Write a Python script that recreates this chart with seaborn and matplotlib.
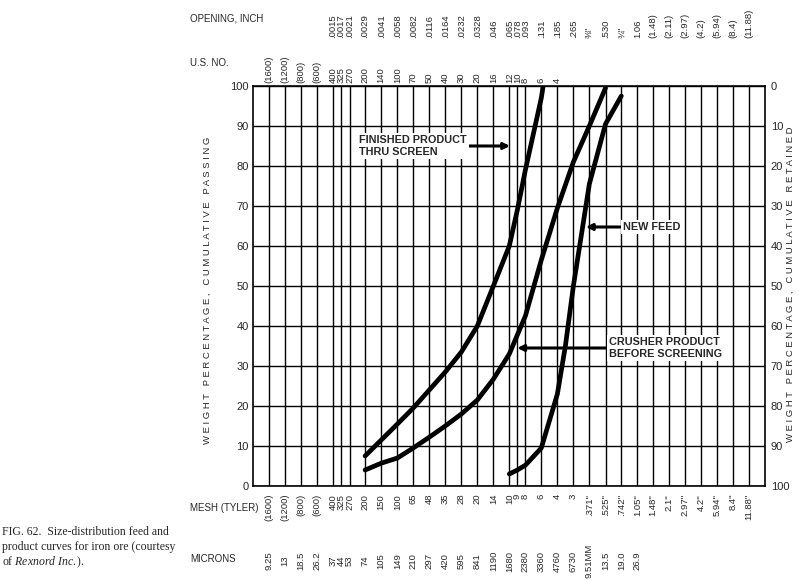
import pandas as pd
import numpy as np
import seaborn as sns
import matplotlib.pyplot as plt
from matplotlib.transforms import blended_transform_factory

# sieve sizes (microns) - one vertical grid line each
sizes = [9.25, 13, 18.5, 26.2, 37, 44, 53, 74, 105, 149, 210, 297, 420, 595, 841,
         1190, 1680, 2000, 2380, 3360, 4760, 6730, 9510, 13500, 19000, 26900,
         37600, 53300, 75400, 106700, 150900, 213400, 301800]

# label rows
opening_inch = [".0015", ".0017", ".0021", ".0029", ".0041", ".0058", ".0082", ".0116",
                ".0164", ".0232", ".0328", ".046", ".065", ".078", ".093", ".131", ".185",
                ".265", '⅜"', ".530", '¾"', "1.06", "(1.48)", "(2.11)", "(2.97)", "(4.2)",
                "(5.94)", "(8.4)", "(11.88)"]   # starts at 37 microns
us_no = ["(1600)", "(1200)", "(800)", "(600)", "400", "325", "270", "200", "140", "100",
         "70", "50", "40", "30", "20", "16", "12", "10", "8", "6", "4"]
mesh_tyler = ["(1600)", "(1200)", "(800)", "(600)", "400", "325", "270", "200", "150",
              "100", "65", "48", "35", "28", "20", "14", "10", "9", "8", "6", "4", "3",
              '.371"', '.525"', '.742"', '1.05"', '1.48"', '2.1"', '2.97"', '4.2"',
              '5.94"', '8.4"', '11.88"']
microns = ["9.25", "13", "18.5", "26.2", "37", "44", "53", "74", "105", "149", "210",
           "297", "420", "595", "841", "1190", "1680", "", "2380", "3360", "4760", "6730",
           "9.51MM", "13.5", "19.0", "26.9"]

# curves (size in microns, weight % cumulative passing)
finished_x = [74, 105, 149, 210, 297, 420, 595, 841, 1190, 1680, 2000, 2380, 3360, 3500]
finished_y = [7.5, 11.5, 15.5, 19.5, 24, 28.5, 33.5, 40, 50, 60, 69, 79, 97, 100]
crusher_x = [74, 105, 149, 210, 297, 420, 595, 841, 1190, 1680, 2380, 3360, 4760, 6730,
             9510, 13500]
crusher_y = [4, 5.7, 7, 9.5, 12.2, 15, 18, 21.5, 26.7, 33, 42.5, 56.5, 69.5, 81, 90, 99.5]
feed_x = [1680, 2000, 2380, 3360, 4760, 5660, 6730, 9510, 13500, 19000]
feed_y = [3, 4, 5.2, 9.5, 23, 35, 50, 75.5, 90.5, 97.5]

df = pd.concat([
    pd.DataFrame({"micron": finished_x, "passing": finished_y, "curve": "finished"}),
    pd.DataFrame({"micron": crusher_x, "passing": crusher_y, "curve": "crusher"}),
    pd.DataFrame({"micron": feed_x, "passing": feed_y, "curve": "feed"}),
], ignore_index=True)

sns.set_style("white")
plt.rcParams["font.family"] = ["Liberation Sans", "DejaVu Sans"]
plt.rcParams["mathtext.fontset"] = "custom"
plt.rcParams["mathtext.it"] = "Liberation Serif:italic"
plt.rcParams["mathtext.rm"] = "Liberation Serif"

fig = plt.figure(figsize=(8, 5.81), dpi=100)
ax = fig.add_axes([0.3163, 0.1635, 0.64, 0.6885])

ax.set_xscale("log")
sns.lineplot(data=df, x="micron", y="passing", hue="curve", palette=["black"] * 3,
             legend=False, estimator=None, sort=False, lw=3.4, ax=ax)
ax.set_xlim(sizes[0] / np.sqrt(2), sizes[-1] * np.sqrt(2))
ax.set_ylim(0, 100)
ax.set_xticks(sizes)
ax.xaxis.set_minor_locator(plt.NullLocator())
ax.set_xticklabels([])
ax.set_yticks(range(0, 101, 10))
ax.set_yticklabels([str(v) for v in range(0, 101, 10)], fontsize=8)
ax.tick_params(length=0, pad=3)
ax.grid(True, color="black", lw=1.0)
ax.set_xlabel("")
ax.set_ylabel("")
for s in ax.spines.values():
    s.set_color("black")
    s.set_linewidth(1.2)

ax2 = ax.twinx()
ax2.set_ylim(100, 0)
ax2.set_yticks(range(0, 101, 10))
ax2.set_yticklabels([str(v) for v in range(0, 101, 10)], fontsize=8)
ax2.tick_params(length=0, pad=4)
for s in ax2.spines.values():
    s.set_visible(False)

# label rows above and below the grid
trans = blended_transform_factory(ax.transData, fig.transFigure)
lab = dict(rotation=90, ha="center", fontsize=6.8, transform=trans)
for x, t in zip(sizes[4:], opening_inch):
    ax.text(x, 0.9346, t, va="bottom", **lab)
for x, t in zip(sizes, us_no):
    ax.text(x, 0.857, t, va="bottom", **lab)
for x, t in zip(sizes, mesh_tyler):
    ax.text(x, 0.150, t, va="top", **lab)
for x, t in zip(sizes, microns):
    ax.text(x, 0.0344, t, va="center", **lab)

hdr = dict(fontsize=7, ha="left", va="center")
fig.text(0.2375, 0.969, "OPENING, INCH", **hdr)
fig.text(0.2375, 0.8916, "U.S. NO.", **hdr)
fig.text(0.2375, 0.1256, "MESH (TYLER)", **hdr)
fig.text(0.2375, 0.0379, "MICRONS", **hdr)

def spaced(s):
    return "   ".join(" ".join(w) for w in s.split())

fig.text(0.259, 0.5, spaced("WEIGHT PERCENTAGE, CUMULATIVE PASSING"), rotation=90,
         ha="center", va="center", fontsize=6.8)
fig.text(0.9875, 0.51, spaced("WEIGHT PERCENTAGE, CUMULATIVE RETAINED"), rotation=90,
         ha="center", va="center", fontsize=6.8)

# curve call-outs (white box hides the grid behind the words)
arrow = dict(xycoords="axes fraction", textcoords="axes fraction",
             arrowprops=dict(arrowstyle="-|>", color="black", lw=2.2, mutation_scale=9,
                             shrinkA=0, shrinkB=0))
call = dict(transform=ax.transAxes, fontsize=7.8, fontweight="bold", va="center",
            ha="left", linespacing=1.15, zorder=5,
            bbox=dict(facecolor="white", edgecolor="none", pad=1.5))
ax.annotate("", xy=(0.502, 0.85), xytext=(0.414, 0.85), **arrow)
ax.text(0.207, 0.85, "FINISHED PRODUCT\nTHRU SCREEN", **call)
ax.annotate("", xy=(0.650, 0.6475), xytext=(0.717, 0.6475), **arrow)
ax.text(0.722, 0.6475, "NEW FEED", **call)
ax.annotate("", xy=(0.516, 0.345), xytext=(0.689, 0.345), **arrow)
ax.text(0.695, 0.345, "CRUSHER PRODUCT\nBEFORE SCREENING", **call)

# figure caption
cap = dict(fontsize=8.5, ha="left", va="baseline", family=["Liberation Serif", "DejaVu Serif"])
fig.text(0.003, 1 - 535 / 581, "FIG. 62.  Size-distribution feed and", **cap)
fig.text(0.003, 1 - 550 / 581, "product curves for iron ore (courtesy", **cap)
fig.text(0.003, 1 - 565 / 581, r"of $\it{Rexnord\ Inc.}$).", **cap)

plt.savefig("out.png", dpi=100)
